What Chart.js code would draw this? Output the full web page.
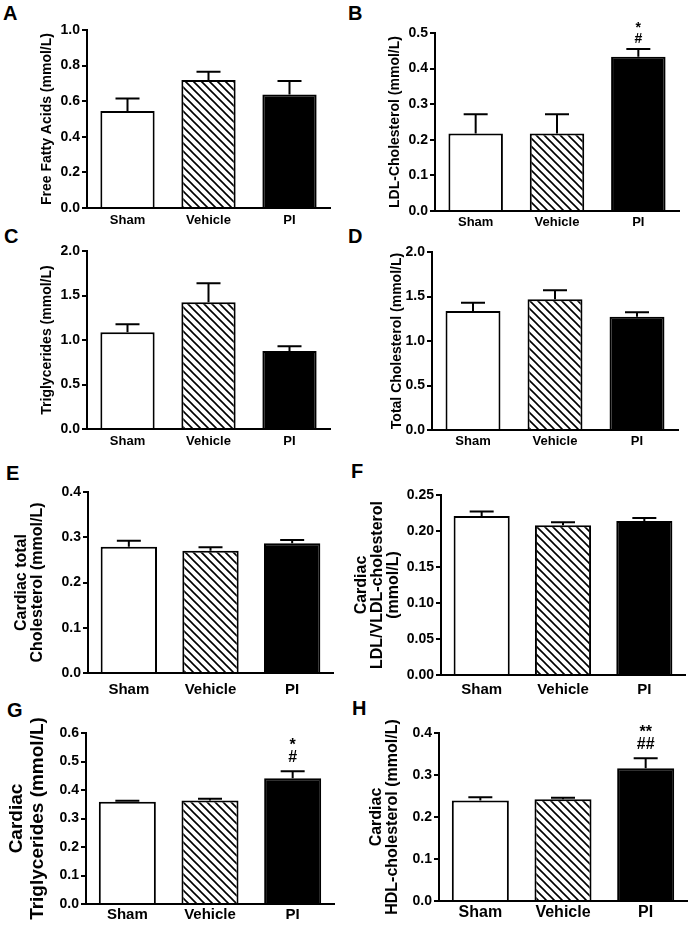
<!DOCTYPE html>
<html>
<head>
<meta charset="utf-8">
<script src="https://cdn.jsdelivr.net/npm/chart.js@4.4.0/dist/chart.umd.min.js"></script>
<style>
  body { margin: 0; background: #fff; }
  #page { position: relative; width: 689px; height: 925px; overflow: hidden;
          font-family: "Liberation Sans", Arial, sans-serif; }
  #page canvas { position: absolute; }
  .letter { position: absolute; font-weight: bold; font-size: 20px; line-height: 1; color: #000; }
</style>
</head>
<body>
<div id="page">
  <div class="letter" style="left:3px;top:3px">A</div>
  <div class="letter" style="left:348px;top:3px">B</div>
  <div class="letter" style="left:4px;top:226px">C</div>
  <div class="letter" style="left:348px;top:226px">D</div>
  <div class="letter" style="left:6px;top:463px">E</div>
  <div class="letter" style="left:351px;top:461px">F</div>
  <div class="letter" style="left:7px;top:700px">G</div>
  <div class="letter" style="left:352px;top:698px">H</div>
  <canvas id="pA"></canvas>
  <canvas id="pB"></canvas>
  <canvas id="pC"></canvas>
  <canvas id="pD"></canvas>
  <canvas id="pE"></canvas>
  <canvas id="pF"></canvas>
  <canvas id="pG"></canvas>
  <canvas id="pH"></canvas>
</div>
<script>
// groups on the x axis
const groups = ['Sham', 'Vehicle', 'PI'];

// A - plasma free fatty acids
const ffaMean = [0.545, 0.719, 0.637];
const ffaSem = [0.070, 0.047, 0.076];
const ffaSig = [[], [], []];
const ffaTicks = [0, 1.0, 0.2];

// B - plasma LDL-cholesterol
const ldlMean = [0.218, 0.218, 0.433];
const ldlSem = [0.054, 0.054, 0.022];
const ldlSig = [[], [], ['*', '#']];
const ldlTicks = [0, 0.5, 0.1];

// C - plasma triglycerides
const tgMean = [1.086, 1.423, 0.876];
const tgSem = [0.090, 0.214, 0.053];
const tgSig = [[], [], []];
const tgTicks = [0, 2.0, 0.5];

// D - plasma total cholesterol
const tcMean = [1.337, 1.468, 1.273];
const tcSem = [0.093, 0.102, 0.049];
const tcSig = [[], [], []];
const tcTicks = [0, 2.0, 0.5];

// E - cardiac total cholesterol
const cTcMean = [0.279, 0.270, 0.287];
const cTcSem = [0.013, 0.008, 0.007];
const cTcSig = [[], [], []];
const cTcTicks = [0, 0.4, 0.1];

// F - cardiac LDL/VLDL-cholesterol
const cLdlMean = [0.221, 0.208, 0.214];
const cLdlSem = [0.006, 0.004, 0.004];
const cLdlSig = [[], [], []];
const cLdlTicks = [0, 0.25, 0.05];

// G - cardiac triglycerides
const cTgMean = [0.359, 0.363, 0.441];
const cTgSem = [0.003, 0.006, 0.025];
const cTgSig = [[], [], ['*', '#']];
const cTgTicks = [0, 0.6, 0.1];

// H - cardiac HDL-cholesterol
const cHdlMean = [0.239, 0.242, 0.316];
const cHdlSem = [0.008, 0.004, 0.024];
const cHdlSig = [[], [], ['**', '##']];
const cHdlTicks = [0, 0.4, 0.1];

const FONT = '"Liberation Sans", Arial, sans-serif';

function makeHatch() {
    const s = 8;
    const c = document.createElement('canvas');
    c.width = s;
    c.height = s;
    const g = c.getContext('2d');
    g.fillStyle = '#fff';
    g.fillRect(0, 0, s, s);
    g.strokeStyle = '#000';
    g.lineWidth = 1.6;
    g.beginPath();
    g.moveTo(-1, -1); g.lineTo(s + 1, s + 1);
    g.moveTo(-1, s - 1); g.lineTo(1, s + 1);
    g.moveTo(s - 1, -1); g.lineTo(s + 1, 1);
    g.stroke();
    return g.createPattern(c, 'repeat');
}

const hatch = makeHatch();

// upper SEM whiskers and significance marks
const errorBarPlugin = {
    id: 'errorBars',
    afterDatasetsDraw(chart, args, opts) {
        const ctx = chart.ctx;
        const y = chart.scales.y;
        const meta = chart.getDatasetMeta(0);
        const mean = chart.data.datasets[0].data;
        ctx.save();
        ctx.strokeStyle = '#000';
        ctx.lineWidth = 2;
        meta.data.forEach((bar, i) => {
            const top = y.getPixelForValue(mean[i] + opts.sem[i]);
            ctx.beginPath();
            ctx.moveTo(bar.x, bar.y);
            ctx.lineTo(bar.x, top);
            ctx.moveTo(bar.x - 12, top);
            ctx.lineTo(bar.x + 12, top);
            ctx.stroke();

            const marks = opts.sig[i];
            ctx.fillStyle = '#000';
            ctx.font = 'bold ' + opts.sigSize + 'px ' + FONT;
            ctx.textAlign = 'center';
            ctx.textBaseline = 'middle';
            for (let k = marks.length - 1, n = 0; k >= 0; k--, n++) {
                let ty = top - opts.sigGap - n * opts.sigStep;
                if (marks[k].indexOf('*') >= 0) ty += opts.sigSize * 0.25;
                ctx.fillText(marks[k], bar.x, ty);
            }
        });
        ctx.restore();
    }
};

function buildPanel(id, mean, sem, sig, ticks, title, st) {
    const [bx, by, bw, bh] = st.box;
    const [left, top, right, bottom] = st.area;
    const canvas = document.getElementById(id);
    canvas.width = bw;
    canvas.height = bh;
    canvas.style.left = bx + 'px';
    canvas.style.top = by + 'px';
    canvas.style.width = bw + 'px';
    canvas.style.height = bh + 'px';

    return new Chart(canvas, {
        type: 'bar',
        data: {
            labels: groups,
            datasets: [{
                data: mean,
                backgroundColor: ['#fff', hatch, '#000'],
                borderColor: '#000',
                borderWidth: 2,
                barPercentage: st.barPct,
                categoryPercentage: 1
            }]
        },
        options: {
            responsive: false,
            animation: false,
            devicePixelRatio: 1,
            layout: { padding: { left: 0, top: top - by, right: bx + bw - right, bottom: 0 } },
            plugins: {
                legend: { display: false },
                tooltip: { enabled: false },
                errorBars: { sem: sem, sig: sig, sigSize: st.sigSize, sigGap: st.sigGap, sigStep: st.sigStep }
            },
            scales: {
                x: {
                    grid: { display: false, drawTicks: false },
                    border: { display: true, color: '#000', width: 2 },
                    ticks: {
                        color: '#000',
                        padding: st.xPad,
                        font: { family: FONT, size: st.xSize, weight: 'bold' }
                    },
                    afterFit: s => { s.height = by + bh - bottom; }
                },
                y: {
                    min: ticks[0],
                    max: ticks[1],
                    ticks: {
                        stepSize: ticks[2],
                        color: '#000',
                        padding: 2,
                        font: { family: FONT, size: 14, weight: 'bold' },
                        callback: v => v.toFixed(st.dec)
                    },
                    grid: { drawOnChartArea: false, drawTicks: true, tickLength: 5, color: '#000', lineWidth: 2 },
                    border: { display: true, color: '#000', width: 2 },
                    title: {
                        display: true,
                        text: title,
                        color: '#000',
                        padding: { top: st.titlePad, bottom: 0 },
                        font: { family: FONT, size: st.titleSize, weight: 'bold', lineHeight: st.titleLh }
                    },
                    afterFit: s => { s.width = left - bx; }
                }
            }
        },
        plugins: [errorBarPlugin]
    });
}

// canvas box [x, y, w, h] and plot area [left, top, right, bottom] in page pixels
const small = { barPct: 0.67, xSize: 13, titleSize: 14, titleLh: 1.2, sigSize: 14, sigGap: 10, sigStep: 14 };
const large = { barPct: 0.69, xSize: 15, titleSize: 16, titleLh: 1.0, sigSize: 16, sigGap: 14, sigStep: 16 };

buildPanel('pA', ffaMean, ffaSem, ffaSig, ffaTicks, 'Free Fatty Acids (mmol/L)',
    { ...small, box: [0, 0, 340, 232], area: [87, 30, 330, 208], dec: 1, xPad: 5, titlePad: 38.6 });
buildPanel('pB', ldlMean, ldlSem, ldlSig, ldlTicks, 'LDL-Cholesterol (mmol/L)',
    { ...small, box: [345, 0, 344, 232], area: [435, 33, 679, 211], dec: 1, xPad: 4, titlePad: 41.6 });
buildPanel('pC', tgMean, tgSem, tgSig, tgTicks, 'Triglycerides (mmol/L)',
    { ...small, box: [0, 236, 340, 212], area: [87, 251, 330, 429], dec: 1, xPad: 5, titlePad: 38.6 });
buildPanel('pD', tcMean, tcSem, tcSig, tcTicks, 'Total Cholesterol (mmol/L)',
    { ...small, box: [345, 236, 344, 212], area: [432, 252, 678, 430], dec: 1, xPad: 4, titlePad: 43.6 });
buildPanel('pE', cTcMean, cTcSem, cTcSig, cTcTicks, ['Cardiac total', 'Cholesterol (mmol/L)'],
    { ...large, box: [0, 455, 340, 245], area: [88, 492, 333, 673], dec: 1, xPad: 8, titlePad: 14 });
buildPanel('pF', cLdlMean, cLdlSem, cLdlSig, cLdlTicks, ['Cardiac', 'LDL/VLDL-cholesterol', '(mmol/L)'],
    { ...large, box: [345, 455, 344, 245], area: [441, 495, 685, 675], dec: 2, xPad: 6, titlePad: 9 });
buildPanel('pG', cTgMean, cTgSem, cTgSig, cTgTicks, ['Cardiac', 'Triglycerides (mmol/L)'],
    { ...large, box: [0, 715, 340, 210], area: [86, 733, 334, 904], dec: 1, xPad: 2, titlePad: 6.5,
      titleSize: 19, titleLh: 1.1 });
buildPanel('pH', cHdlMean, cHdlSem, cHdlSig, cHdlTicks, ['Cardiac', 'HDL-cholesterol (mmol/L)'],
    { ...large, box: [345, 715, 344, 210], area: [439, 733, 687, 901], dec: 1, xPad: 2, titlePad: 24,
      xSize: 16, titleSize: 16 });
</script>
</body>
</html>
